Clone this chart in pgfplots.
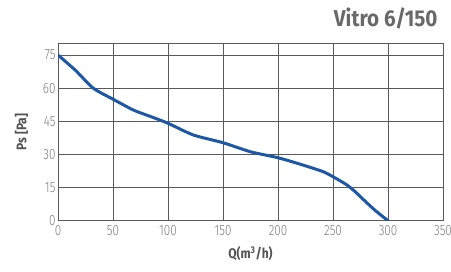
\documentclass[border=0pt]{standalone}
\usepackage{pgfplots}
\pgfplotsset{compat=1.18}
\usepackage{fontspec}
\setmainfont{Fira Sans}
\newfontfamily\ticklight[FakeStretch=0.78]{Fira Sans Light}
\newfontfamily\labfont[FakeStretch=0.86]{Fira Sans}
\newfontfamily\titfont[FakeStretch=0.9]{Fira Sans}
\definecolor{curveblue}{RGB}{28,88,166}
\definecolor{gridgray}{RGB}{90,90,90}
\definecolor{ticktext}{RGB}{125,125,125}
\definecolor{labeltext}{RGB}{85,85,85}
\definecolor{titlegray}{RGB}{105,105,105}
\begin{document}
\begin{tikzpicture}[x=1bp,y=1bp]
\path[use as bounding box] (0,0) rectangle (451,271);
\begin{axis}[
  at={(58bp,50.3bp)}, anchor=south west,
  scale only axis, width=385bp, height=177.4bp,
  xmin=0, xmax=350, ymin=0, ymax=80.3,
  xtick={0,50,...,350}, ytick={0,15,...,75},
  grid=major,
  major grid style={gridgray, line width=0.9bp},
  axis line style={gridgray, line width=0.9bp},
  tick style={draw=none},
  ticklabel style={font=\ticklight\fontsize{15}{15}\selectfont, text=ticktext},
  /pgf/number format/assume math mode=true,
  xticklabel style={yshift=-1bp},
  yticklabel style={xshift=1bp},
  xlabel={Q(m\textsuperscript{3}/h)},
  ylabel={Ps [Pa]},
  label style={font=\labfont\fontsize{14}{14}\selectfont\bfseries, text=labeltext},
  xlabel style={yshift=-4bp},
  ylabel style={yshift=8bp},
]
\addplot[curveblue, line width=3bp, smooth, tension=0.4] coordinates {
(0,75) (16,68) (32,60) (50,55) (68.5,50.1) (85,47) (100,44.1) (123,38.8) (150,35.3)
(175,31.2) (200,28.5) (222,25.3) (241,22.2) (250,19.9) (262,16.4) (270,13.2) (278,9.4) (288,4.8) (300,0)
};
\end{axis}
\node[anchor=east, font=\titfont\fontsize{23}{23}\selectfont\bfseries, text=titlegray] at (441bp,253bp) {Vitro 6/150};
\end{tikzpicture}
\end{document}
